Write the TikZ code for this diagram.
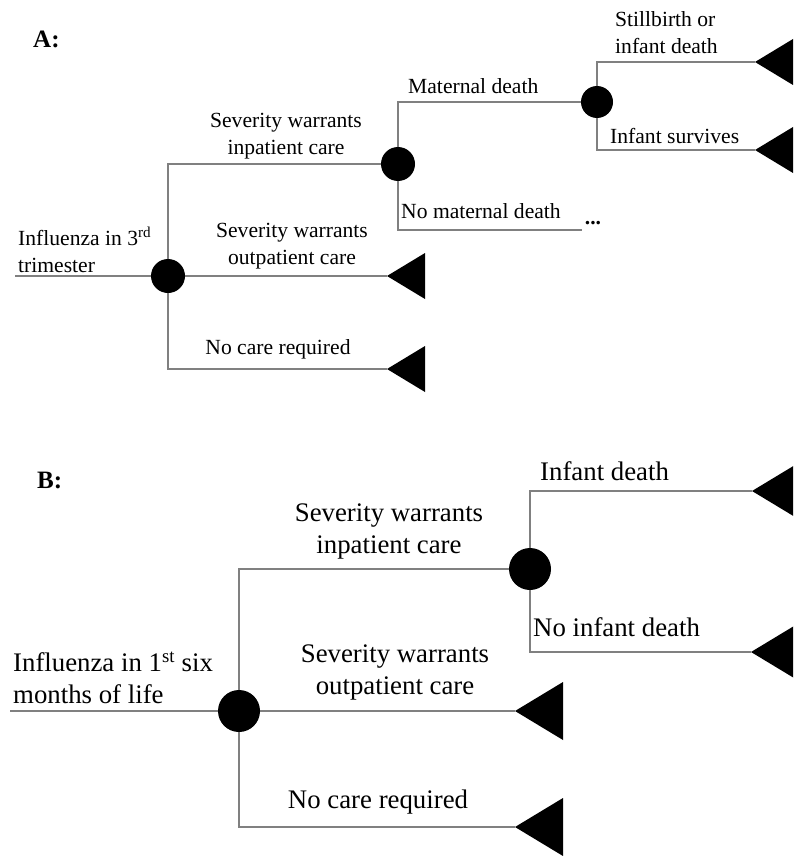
\documentclass[tikz,border=0pt]{standalone}
\usepackage{fontspec}
\setmainfont{Liberation Serif}
\begin{document}
\begin{tikzpicture}[x=1pt,y=-1pt,
  edge/.style={draw={rgb,255:red,128;green,128;blue,128}, line width=1.4pt},
  chanceA/.style={circle, fill=black, inner sep=0pt, minimum size=34pt},
  chanceB/.style={circle, fill=black, inner sep=0pt, minimum size=42pt},
  lblA/.style={inner sep=0pt, align=center, font=\fontsize{21.6}{27}\selectfont},
  lblB/.style={inner sep=0pt, align=center, font=\fontsize{26.8}{32}\selectfont},
  panel/.style={inner sep=0pt, font=\fontsize{25}{30}\selectfont\bfseries},
  leafA/.pic={\fill (0,0) -- (38,-23) -- (38,23) -- cycle;},
  leafB/.pic={\fill (0,0) -- (48,-29) -- (48,29) -- cycle;}]
\useasboundingbox (0,0) rectangle (793,856);
\clip (0,0) rectangle (793,856);

% ---------- Tree A: influenza in the 3rd trimester ----------
\node[panel, anchor=west] (panA) at (33,39) {A:};
\coordinate (rootA) at (15,276);
\node[chanceA] (cA1) at (168,276) {};
\node[chanceA] (cA2) at (398,164) {};
\node[chanceA, minimum size=32pt] (cA3) at (597,102) {};
\coordinate (tA1) at (387,276);
\coordinate (tA2) at (387,369);
\coordinate (tA3) at (755,62);
\coordinate (tA4) at (755,150);
\coordinate (dotsA) at (582,230);

\draw[edge] (rootA) -- (cA1);
\draw[edge] (cA1) |- (cA2);
\draw[edge] (cA1) -- (tA1);
\draw[edge] (cA1) |- (tA2);
\draw[edge] (cA2) |- (cA3);
\draw[edge] (cA2) |- (dotsA);
\draw[edge] (cA3) |- (tA3);
\draw[edge] (cA3) |- (tA4);
\pic at (tA1) {leafA};
\pic at (tA2) {leafA};
\pic at (tA3) {leafA};
\pic at (tA4) {leafA};

\node[lblA, align=left, anchor=west] (iA) at (18,250) {Influenza in 3\textsuperscript{rd}\\trimester};
\node[lblA] (inA) at (286,136) {Severity warrants\\inpatient care};
\node[lblA] (outA) at (292,246) {Severity warrants\\outpatient care};
\node[lblA] (noA) at (278,349) {No care required};
\node[lblA, anchor=west] (mdA) at (408,86) {Maternal death};
\node[lblA, anchor=west] (nmdA) at (401,211) {No maternal death};
\node[lblA, align=left, anchor=west] (sbA) at (615,33) {Stillbirth or\\infant death};
\node[lblA, anchor=west] (isA) at (610,136) {Infant survives};
\node[inner sep=0pt, font=\fontsize{21.6}{27}\selectfont\bfseries] (ellA) at (593,223) {...};

% ---------- Tree B: influenza in the first six months of life ----------
\node[panel, anchor=west] (panB) at (37,480) {B:};
\coordinate (rootB) at (10,711);
\node[chanceB] (cB1) at (239,711) {};
\node[chanceB] (cB2) at (530,569) {};
\coordinate (tB1) at (515,711);
\coordinate (tB2) at (515,827);
\coordinate (tB3) at (752,491);
\coordinate (tB4) at (751,652);

\draw[edge] (rootB) -- (cB1);
\draw[edge] (cB1) |- (cB2);
\draw[edge] (cB1) -- (tB1);
\draw[edge] (cB1) |- (tB2);
\draw[edge] (cB2) |- (tB3);
\draw[edge] (cB2) |- (tB4);
\pic at (tB1) {leafB};
\pic at (tB2) {leafB};
\pic at (tB3) {leafB};
\pic at (tB4) {leafB};

\node[lblB, align=left, anchor=west] (iB) at (13,678) {Influenza in 1\textsuperscript{st} six\\months of life};
\node[lblB] (inB) at (389,531) {Severity warrants\\inpatient care};
\node[lblB] (outB) at (395,672) {Severity warrants\\outpatient care};
\node[lblB] (noB) at (378,802) {No care required};
\node[lblB, anchor=west] (idB) at (540,471) {Infant death};
\node[lblB, anchor=west] (nidB) at (533,627) {No infant death};
\end{tikzpicture}
\end{document}
